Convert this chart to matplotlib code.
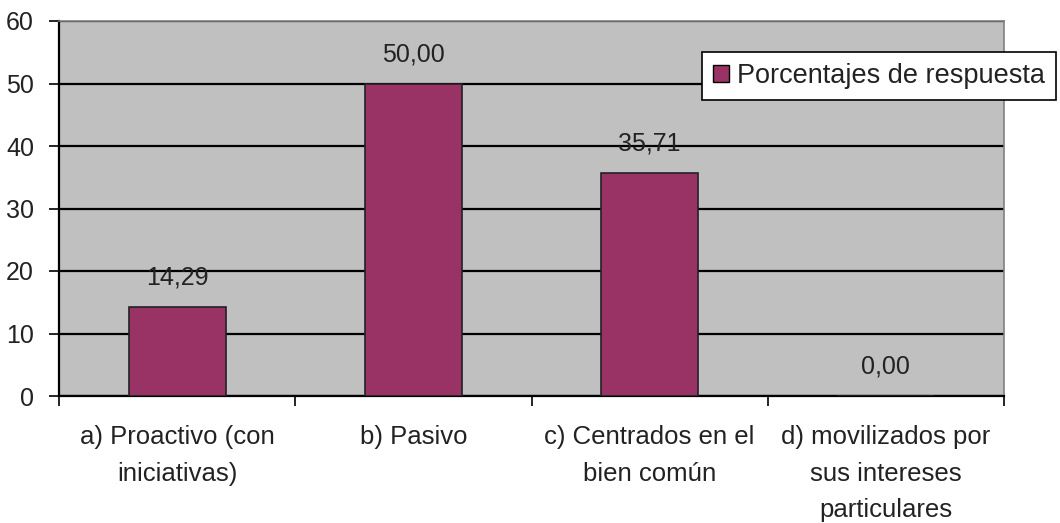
import numpy as np
import matplotlib
matplotlib.use("Agg")
import matplotlib.pyplot as plt
from matplotlib.patches import Patch

plt.rcParams['font.family'] = ['Liberation Sans', 'DejaVu Sans']

categorias = ["a) Proactivo (con\niniciativas)", "b) Pasivo",
              "c) Centrados en el\nbien común",
              "d) movilizados por\nsus intereses\nparticulares"]
porcentajes = [14.29, 50.00, 35.71, 0.00]
serie = "Porcentajes de respuesta"

COLOR_BARRA = "#993366"
COLOR_FONDO = "#C0C0C0"
TEXTO = "#222222"

fig = plt.figure(figsize=(10.6, 5.23), dpi=100)
ax = fig.add_axes([59/1060, 1 - 396/523, 945/1060, 375/523])
ax.set_facecolor(COLOR_FONDO)

x = np.arange(len(categorias))
ax.bar(x, porcentajes, width=0.41, color=COLOR_BARRA, edgecolor="#222222",
       linewidth=1.2, zorder=3)

for xi, v in zip(x, porcentajes):
    ax.annotate(f"{v:.2f}".replace(".", ","), (xi, v), xytext=(0, 16),
                textcoords="offset points", ha="center", va="baseline",
                fontsize=18, color=TEXTO)

ax.set_xlim(-0.5, len(categorias) - 0.5)
ax.set_ylim(0, 60)
ax.set_yticks(np.arange(0, 61, 10))
ax.yaxis.grid(True, color="black", linewidth=1.6, zorder=1)
ax.set_axisbelow(True)

# ticks de categoría en los límites, etiquetas centradas
ax.set_xticks(np.arange(-0.5, len(categorias)), labels=[""] * (len(categorias) + 1))
ax.set_xticks(x, labels=categorias, minor=True)
ax.tick_params(axis="x", which="major", length=7, width=1.2, color="black")
ax.tick_params(axis="x", which="minor", length=0, pad=21, labelsize=18.5,
               labelcolor=TEXTO)
for lbl in ax.get_xticklabels(minor=True):
    lbl.set_linespacing(1.66)
    lbl.set_verticalalignment("top")
ax.tick_params(axis="y", length=7, width=1.2, pad=11, labelsize=18,
               labelcolor=TEXTO)

for lado in ["top", "right"]:
    ax.spines[lado].set_color("#808080")
    ax.spines[lado].set_linewidth(1.2)
for lado in ["left", "bottom"]:
    ax.spines[lado].set_color("black")
    ax.spines[lado].set_linewidth(1.6)

leg = ax.legend(handles=[Patch(facecolor=COLOR_BARRA, edgecolor="black", label=serie)],
                loc="upper left", bbox_to_anchor=(702/1060, 1 - 52/523),
                bbox_transform=fig.transFigure, fontsize=19.5, frameon=True,
                fancybox=False, handlelength=0.6, handleheight=0.6,
                handletextpad=0.3, borderpad=0.4, borderaxespad=0)
leg.get_frame().set_edgecolor("black")
leg.get_frame().set_linewidth(1.2)
leg.get_frame().set_facecolor("white")
leg.get_frame().set_alpha(1)
for t in leg.get_texts():
    t.set_color(TEXTO)

fig.savefig("out.png", dpi=100)
